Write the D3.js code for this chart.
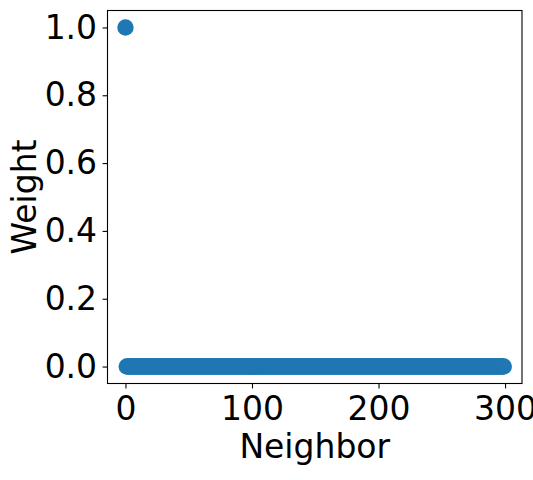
<!DOCTYPE html>
<html><head><meta charset="utf-8">
<script src="https://cdn.jsdelivr.net/npm/d3@7"></script>
<style>body{margin:0;background:#fff}</style>
</head><body>
<svg id="c" width="533" height="480"></svg>
<script>
// Data: neighbor index and weight
const neighbors = d3.range(0, 300);
const weights = neighbors.map(i => i === 0 ? 1.0 : 0.0);
const xTicks = [0, 100, 200, 300];
const yTicks = [0.0, 0.2, 0.4, 0.6, 0.8, 1.0];

const svg = d3.select("#c");
const L = 107.5, R = 522, T = 10.5, B = 383.5;
const x = d3.scaleLinear().domain([-14.2, 313.4]).range([L, R]);
const y = d3.scaleLinear().domain([-0.05, 1.05]).range([B, T]);
const font = "DejaVu Sans, sans-serif";
const fs = 33;

// points
svg.append("g").selectAll("circle").data(neighbors).join("circle")
  .attr("cx", d => x(d)).attr("cy", (d, i) => y(weights[i]))
  .attr("r", 8.2).attr("fill", "#1f77b4");

// frame
svg.append("rect").attr("x", L).attr("y", T).attr("width", R - L).attr("height", B - T)
  .attr("fill", "none").attr("stroke", "#000").attr("stroke-width", 1.1);

const xa = svg.append("g").attr("transform", `translate(0,${B})`)
  .call(d3.axisBottom(x).tickValues(xTicks).tickSize(4.9).tickPadding(4.9).tickFormat(d3.format("d")));
const ya = svg.append("g").attr("transform", `translate(${L},0)`)
  .call(d3.axisLeft(y).tickValues(yTicks).tickSize(4.9).tickPadding(5.5).tickFormat(d3.format(".1f")));
[xa, ya].forEach(a => {
  a.select(".domain").remove();
  a.selectAll("line").attr("stroke", "#000").attr("stroke-width", 1.1);
  a.selectAll("text").attr("font-family", font).attr("font-size", fs).attr("fill", "#000");
});
xa.selectAll("text").attr("y", 36.5).attr("dy", 0);

svg.append("text").attr("x", (L + R) / 2).attr("y", 458.3).attr("text-anchor", "middle")
  .attr("font-family", font).attr("font-size", fs).text("Neighbor");
svg.append("text").attr("transform", `translate(36,${(T + B) / 2}) rotate(-90)`)
  .attr("text-anchor", "middle").attr("font-family", font).attr("font-size", fs).text("Weight");
</script>
</body></html>
